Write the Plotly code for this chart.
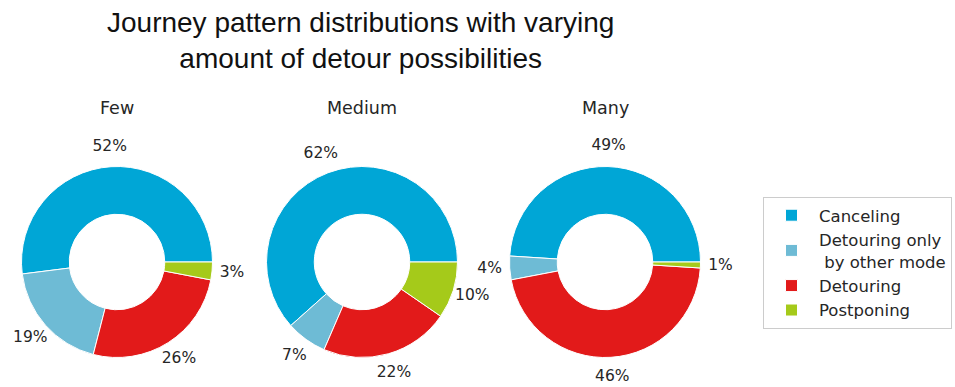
import math
import plotly.graph_objects as go

# Journey pattern shares (percent) per detour-possibility group
categories = ["Canceling", "Detouring only<br> by other mode", "Detouring", "Postponing"]
groups = ["Few", "Medium", "Many"]
few_values = [52.0, 19.0, 26.0, 3.0]
medium_values = [61.6, 6.9, 21.9, 9.6]
many_values = [49.0, 4.0, 46.0, 1.0]
colors = ["#00A6D6", "#6EBBD5", "#E21A1A", "#A5CA1A"]

W, H = 955, 387
R = 95.5                    # outer radius in px
centers = [(117, 262), (362, 262), (605, 262)]
label_dist = 1.21           # percent labels sit just outside the ring

fig = go.Figure()

for name, vals, (cx, cy) in zip(groups, [few_values, medium_values, many_values], centers):
    total = sum(vals)
    # plotly's counterclockwise mode ends the first slice at `rotation`,
    # so shift it so that the first slice starts at 3 o'clock
    rot = 90 - 360 * vals[0] / total
    fig.add_trace(go.Pie(
        labels=categories,
        values=vals,
        hole=0.5,
        sort=False,
        direction="counterclockwise",
        rotation=rot,
        marker=dict(colors=colors, line=dict(color="white", width=1)),
        textinfo="none",
        hoverinfo="label+percent",
        domain=dict(x=[(cx - R) / W, (cx + R) / W],
                    y=[(H - cy - R) / H, (H - cy + R) / H]),
        showlegend=(name == "Few"),
        name=name,
    ))

    # percentage labels around each ring, placed at the middle angle of each slice
    xs, ys, texts = [], [], []
    cum = 0.0
    for v in vals:
        theta = 2 * math.pi * (cum + v / 2) / total
        cum += v
        xs.append(cx + label_dist * R * math.cos(theta))
        ys.append(cy - label_dist * R * math.sin(theta))
        texts.append(f"{round(100 * v / total)}%")
    fig.add_trace(go.Scatter(
        x=xs, y=ys, text=texts, mode="text",
        textfont=dict(family="DejaVu Sans", size=15.5, color="#262626"),
        showlegend=False, hoverinfo="skip", cliponaxis=False,
    ))

    fig.add_annotation(x=cx, y=108, text=name, showarrow=False,
                       font=dict(family="DejaVu Sans", size=17.5, color="#262626"),
                       xanchor="center", yanchor="middle")

fig.add_annotation(
    x=360, y=40,
    text="Journey pattern distributions with varying<br>amount of detour possibilities",
    showarrow=False, xanchor="center", yanchor="middle",
    font=dict(family="Liberation Sans", size=28, color="#111111"),
)

fig.update_layout(
    width=W, height=H,
    margin=dict(l=0, r=0, t=0, b=0),
    paper_bgcolor="white",
    plot_bgcolor="rgba(0,0,0,0)",
    xaxis=dict(range=[0, W], visible=False, fixedrange=True),
    yaxis=dict(range=[H, 0], visible=False, fixedrange=True),
    legend=dict(
        x=763 / W, y=(H - 197) / H, xanchor="left", yanchor="top",
        bordercolor="#cccccc", borderwidth=1, bgcolor="white",
        font=dict(family="DejaVu Sans", size=16.5, color="#262626"),
        traceorder="normal", itemwidth=45,
    ),
)

fig.write_html("out.html")
